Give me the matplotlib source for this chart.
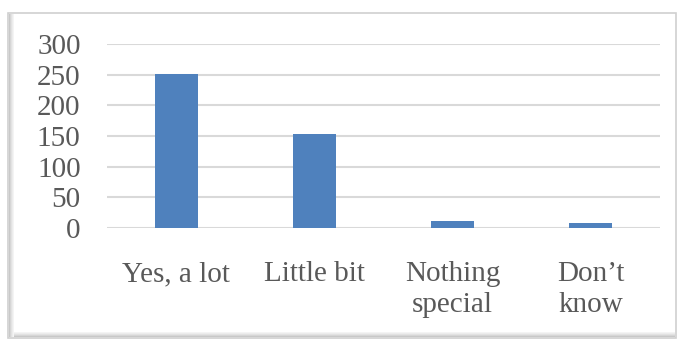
import matplotlib.pyplot as plt
from matplotlib.patches import Rectangle

categories = ["Yes, a lot", "Little bit", "Nothing\nspecial", "Don\u2019t\nknow"]
counts = [251, 153, 11, 8]
yticks = [0, 50, 100, 150, 200, 250, 300]

plt.rcParams['font.family'] = ['Liberation Serif', 'DejaVu Serif']

fig = plt.figure(figsize=(6.77, 3.43), dpi=100)

# frame around the chart with a soft shadow on the left and bottom
fig.patches.append(Rectangle((8 / 677, 5 / 343), 668 / 677, 325 / 343,
                             transform=fig.transFigure, facecolor='white',
                             edgecolor='#d0d0d0', linewidth=1.2, zorder=-2))
for i, c in enumerate(['#c8c8c8', '#d6d6d6', '#e2e2e2', '#ececec', '#f4f4f4']):
    fig.patches.append(Rectangle(((9 + i) / 677, 6 / 343), 1 / 677, 323 / 343,
                                 transform=fig.transFigure, facecolor=c,
                                 edgecolor='none', zorder=-1))
    fig.patches.append(Rectangle((14 / 677, (6 + i) / 343), 661 / 677, 1 / 343,
                                 transform=fig.transFigure, facecolor=c,
                                 edgecolor='none', zorder=-1))

ax = fig.add_axes([107 / 677, 115 / 343, 553 / 677, 184 / 343])
ax.set_facecolor('none')
ax.set_zorder(5)

x = range(len(categories))
ax.bar(x, counts, width=0.31, color='#4f81bd', zorder=3)

ax.set_xlim(-0.5, len(categories) - 0.5)
ax.set_ylim(0, 300)
ax.set_yticks(yticks)
ax.set_xticks(list(x))
ax.set_xticklabels(categories, linespacing=1.25)

ax.grid(axis='y', color='#d9d9d9', linewidth=1.5, zorder=0)
ax.set_axisbelow(True)
for s in ax.spines.values():
    s.set_visible(False)

ax.tick_params(axis='both', length=0, labelsize=21, labelcolor='#595959')
ax.tick_params(axis='y', pad=19)
ax.tick_params(axis='x', pad=24)

fig.savefig('out.png', dpi=100)
